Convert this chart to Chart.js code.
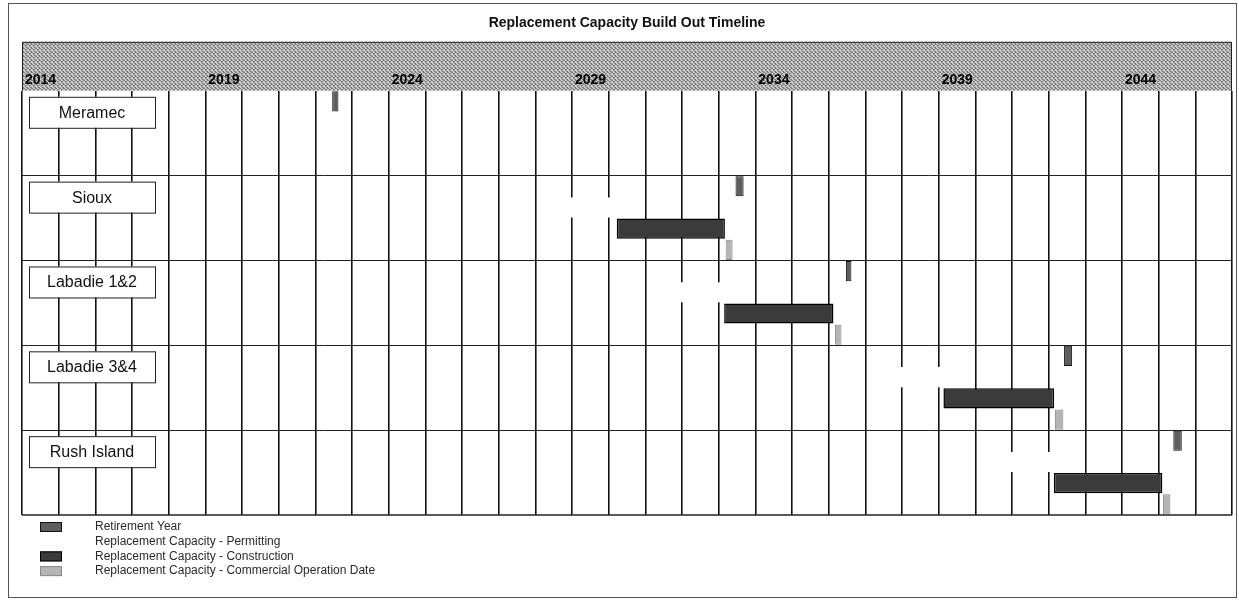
<!DOCTYPE html>
<html>
<head>
<meta charset="utf-8">
<script src="https://cdn.jsdelivr.net/npm/chart.js@4"></script>
<style>
  body { margin: 0; background: #fff; }
  #wrap { width: 1239px; height: 604px; position: relative; }
</style>
</head>
<body>
<div id="wrap"><canvas id="timeline"></canvas></div>
<script>
const plants = ['Meramec', 'Sioux', 'Labadie 1&2', 'Labadie 3&4', 'Rush Island'];
const yearLabels = ['2014', '2019', '2024', '2029', '2034', '2039', '2044'];

// fractional years
const retireStart = [2022.46, 2033.46, 2036.47, 2042.42, 2045.40];
const retireEnd   = [2022.63, 2033.68, 2036.62, 2042.64, 2045.63];
const permitStart = [null, 2028.20, 2031.15, 2037.13, 2040.14];
const buildStart  = [null, 2030.22, 2033.15, 2039.13, 2042.14];
const buildEnd    = [null, 2033.17, 2036.13, 2042.15, 2045.10];
const codStart    = [null, 2033.19, 2036.17, 2042.17, 2045.12];
const codEnd      = [null, 2033.38, 2036.35, 2042.40, 2045.32];

const laneNames = ['retire', 'permit', 'build', 'cod'];
const lanes = plants.flatMap(p => laneNames.map(l => p + ' ' + l));

function spans(starts, ends, lane) {
  return plants
    .map((p, i) => starts[i] == null ? null : { y: p + ' ' + lane, x: [starts[i], ends[i]] })
    .filter(Boolean);
}

// small fixed speckle tile, like the scanned halftone
function speckle(light, dark) {
  const c = document.createElement('canvas');
  c.width = 4; c.height = 4;
  const g = c.getContext('2d');
  g.fillStyle = light; g.fillRect(0, 0, 4, 4);
  g.fillStyle = dark;
  [[0, 0], [2, 1], [1, 2], [3, 3], [3, 0], [1, 1], [2, 3]].forEach(([x, y]) => g.fillRect(x, y, 1, 1));
  return g.createPattern(c, 'repeat');
}
const bandFill = speckle('#cacaca', '#7c7c7c');

const ctx = document.getElementById('timeline').getContext('2d');

const extras = {
  id: 'extras',
  beforeDraw(chart) {
    const g = chart.ctx, xs = chart.scales.x, a = chart.chartArea;
    g.save();
    g.fillStyle = bandFill;
    g.fillRect(a.left, xs.top, a.right - a.left, xs.bottom - xs.top);
    g.strokeStyle = '#222';
    g.lineWidth = 1;
    g.beginPath();
    g.moveTo(a.left + 0.5, xs.bottom);
    g.lineTo(a.left + 0.5, xs.top + 0.5);
    g.lineTo(a.right - 0.5, xs.top + 0.5);
    g.lineTo(a.right - 0.5, xs.bottom);
    g.stroke();
    g.restore();
  },
  afterDatasetsDraw(chart) {
    const g = chart.ctx, ys = chart.scales.y, a = chart.chartArea;
    g.save();
    g.strokeStyle = '#222';
    g.lineWidth = 1.5;
    g.beginPath();
    g.moveTo(a.left, a.bottom);
    g.lineTo(a.right, a.bottom);
    g.stroke();
    plants.forEach((p, i) => {
      const top = ys.getPixelForValue(i * 4 - 0.5);
      g.fillStyle = '#fff';
      g.fillRect(29, top + 6, 126, 31);
      g.strokeStyle = '#222';
      g.lineWidth = 1;
      g.strokeRect(29.5, top + 6.5, 126, 31);
      g.fillStyle = '#111';
      g.font = '16px "Liberation Sans", Arial, sans-serif';
      g.textAlign = 'center';
      g.textBaseline = 'middle';
      g.fillText(p, 92, top + 22.5);
    });
    g.restore();
  },
  afterDraw(chart) {
    const g = chart.ctx, a = chart.chartArea;
    g.save();
    chart.data.datasets.forEach((ds, i) => {
      const y = a.bottom + 12 + i * 14.7;
      if (ds.legendSwatch) {
        g.fillStyle = ds.backgroundColor;
        g.fillRect(40, y - 5, 22, 10);
        g.strokeStyle = ds.borderColor;
        g.lineWidth = 1;
        g.strokeRect(40.5, y - 4.5, 21, 9);
      }
      g.fillStyle = '#2a2a2a';
      g.font = '12px "Liberation Sans", Arial, sans-serif';
      g.textAlign = 'left';
      g.textBaseline = 'middle';
      g.fillText(ds.label, 95, y);
    });
    g.strokeStyle = '#555';
    g.lineWidth = 1;
    g.strokeRect(8.5, 3.5, 1228, 594);
    g.restore();
  }
};

new Chart(ctx, {
  type: 'bar',
  data: {
    labels: lanes,
    datasets: [
      {
        label: 'Retirement Year',
        data: spans(retireStart, retireEnd, 'retire'),
        backgroundColor: '#5e5e5e', borderColor: '#111', borderWidth: 1,
        legendSwatch: true
      },
      {
        label: 'Replacement Capacity - Permitting',
        data: spans(permitStart, buildStart, 'permit'),
        backgroundColor: '#fff', borderColor: '#fff', borderWidth: 0,
        legendSwatch: false
      },
      {
        label: 'Replacement Capacity - Construction',
        data: spans(buildStart, buildEnd, 'build'),
        backgroundColor: '#3b3b3b', borderColor: '#000', borderWidth: 1.5,
        legendSwatch: true
      },
      {
        label: 'Replacement Capacity - Commercial Operation Date',
        data: spans(codStart, codEnd, 'cod'),
        backgroundColor: '#b4b4b4', borderColor: '#8a8a8a', borderWidth: 1,
        legendSwatch: true
      }
    ]
  },
  options: {
    indexAxis: 'y',
    responsive: true,
    maintainAspectRatio: false,
    animation: false,
    layout: { padding: { left: 22, right: 7, top: 0, bottom: 89 } },
    datasets: {
      bar: { grouped: false, barPercentage: 1, categoryPercentage: 0.95, borderSkipped: false }
    },
    plugins: {
      legend: { display: false },
      tooltip: { enabled: false },
      title: {
        display: true,
        text: 'Replacement Capacity Build Out Timeline',
        color: '#111',
        font: { family: '"Liberation Sans", Arial, sans-serif', size: 14, weight: 'bold' },
        padding: { top: 15, bottom: 10 }
      }
    },
    scales: {
      x: {
        type: 'linear',
        position: 'top',
        min: 2014,
        max: 2047,
        afterFit(s) { s.height = 49; },
        border: { display: false },
        grid: { color: '#111', lineWidth: 1.6, drawTicks: false },
        ticks: {
          stepSize: 1,
          autoSkip: false,
          maxRotation: 0,
          align: 'start',
          labelOffset: 3,
          padding: 2,
          color: '#000',
          font: { family: '"Liberation Sans", Arial, sans-serif', size: 14, weight: 'bold' },
          callback: v => yearLabels.includes(String(v)) ? String(v) : ''
        }
      },
      y: {
        type: 'category',
        offset: true,
        afterFit(s) { s.width = 0; },
        border: { display: false },
        grid: {
          offset: true,
          drawTicks: false,
          lineWidth: 1,
          color: c => (c.index % 4 === 0 && c.index > 0) ? '#222' : 'rgba(0,0,0,0)'
        },
        ticks: { display: false }
      }
    }
  },
  plugins: [extras]
});
</script>
</body>
</html>
